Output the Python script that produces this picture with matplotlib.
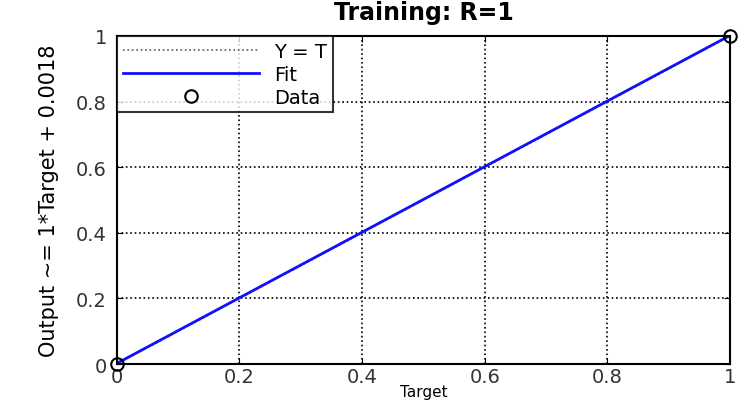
import numpy as np
import matplotlib
matplotlib.use("Agg")
import matplotlib.pyplot as plt

# datos
target = [0.0, 1.0]
output = [0.0, 1.0]
fit_x = [0.0, 1.0]
fit_y = [0.0018, 1.0018]
ticks = [0, 0.2, 0.4, 0.6, 0.8, 1]
tick_labels = ["0", "0.2", "0.4", "0.6", "0.8", "1"]

fig = plt.figure(figsize=(7.39, 4.02), dpi=100)
ax = fig.add_axes([0.158, 0.092, 0.830, 0.816])

ax.plot([0, 1], [0, 1], ':', color='0.35', lw=1.2, label='Y = T')
ax.plot(fit_x, fit_y, '-', color='#1010ff', lw=2, label='Fit')
ax.plot(target, output, 'o', mfc='none', mec='black', ms=9, mew=1.5,
        label='Data', clip_on=False)

ax.set_xlim(0, 1)
ax.set_ylim(0, 1)
ax.set_xticks(ticks)
ax.set_yticks(ticks)
ax.set_xticklabels(tick_labels)
ax.set_yticklabels(tick_labels)
ax.tick_params(direction='in', labelsize=14, labelcolor='#333333', length=4,
               top=True, right=True, pad=7)
ax.tick_params(axis='x', pad=2)
ax.grid(True, linestyle=':', color='black', lw=1.2)
for s in ax.spines.values():
    s.set_linewidth(1.5)

ax.set_title('Training: R=1', fontsize=17, fontweight='bold', pad=12)
# etiqueta x pegada al borde inferior
fig.text(0.573, 0.004, 'Target', ha='center', va='bottom', fontsize=11)
ax.set_ylabel('Output ~= 1*Target + 0.0018', fontsize=15, labelpad=12)

leg = ax.legend(loc='upper left', fontsize=14, frameon=True, fancybox=False,
                edgecolor='black', borderaxespad=0, handlelength=7,
                markerfirst=True, borderpad=0.3, labelspacing=0.2,
                handletextpad=0.8)
leg.get_frame().set_linewidth(1.5)

fig.savefig('out.png', dpi=100)
